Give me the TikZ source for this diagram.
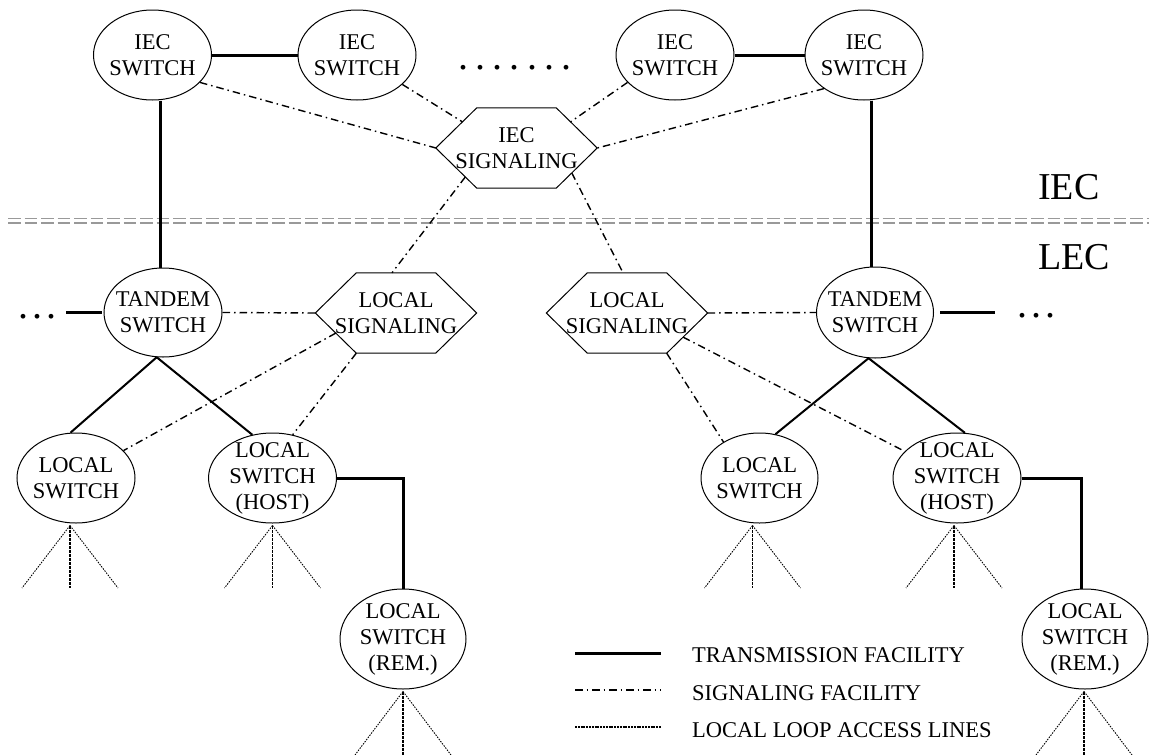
\documentclass[tikz,border=0pt]{standalone}
\usepackage{fontspec}
\setmainfont{Liberation Serif}
\usetikzlibrary{shapes.geometric,calc}
\tikzset{
  sw/.style={ellipse, draw, line width=1pt, inner sep=0pt},
  txt/.style={align=center, inner sep=0pt, font=\fontsize{22.5}{26}\selectfont},
  hexbox/.style={rectangle, inner sep=0pt, minimum width=161pt, minimum height=80pt, align=center, font=\fontsize{22.5}{26}\selectfont},
  hexline/.style={line width=1pt, line join=miter},
  trans/.style={line width=3pt},
  branch/.style={line width=2pt},
  sig/.style={line width=1.4pt, dash pattern=on 7.5pt off 4pt on 1.5pt off 4pt},
  loopd/.style={line width=0.9pt, dash pattern=on 1.5pt off 1.2pt},
  loopv/.style={line width=1.8pt, dash pattern=on 3pt off 1pt},
  loopleg/.style={line width=1.1pt, dash pattern=on 2pt off 0.8pt},
  bound/.style={line width=1.5pt, color=black!40, dash pattern=on 12.5pt off 4pt},
  dotsnode/.style={inner sep=0pt, font=\fontsize{40}{40}\selectfont},
  biglab/.style={inner sep=0pt, font=\fontsize{38}{40}\selectfont},
  legtxt/.style={inner sep=0pt, font=\fontsize{22.5}{26}\selectfont},
}
% name, position, width, height, text
\newcommand\swnode[5]{%
  \node[sw, minimum width=#3pt, minimum height=#4pt] (#1) at (#2) {};
  \node[txt] (#1t) at (#1) {#5};}
% name, position, text
\newcommand\hexa[3]{%
  \node[hexbox] (#1) at (#2) {#3};
  \coordinate (#1-l) at (#1.west);
  \coordinate (#1-r) at (#1.east);
  \coordinate (#1-tl) at ([xshift=41pt]#1.north west);
  \coordinate (#1-tr) at ([xshift=-41pt]#1.north east);
  \coordinate (#1-bl) at ([xshift=41pt]#1.south west);
  \coordinate (#1-br) at ([xshift=-41pt]#1.south east);
  \draw[hexline] (#1-l) -- (#1-tl) -- (#1-tr) -- (#1-r) -- (#1-br) -- (#1-bl) -- cycle;}
% node, xshift of apex, bottom y
\newcommand\loops[3]{%
  \coordinate (#1-ap) at ([xshift=#2pt,yshift=-2pt]#1.south);
  \coordinate (#1-v) at (#1-ap |- 0,#3);
  \draw[loopd] (#1-ap) -- ([xshift=-48pt]#1-v);
  \draw[loopv] (#1-ap) -- (#1-v);
  \draw[loopd] (#1-ap) -- ([xshift=48pt]#1-v);}
\begin{document}
\begin{tikzpicture}[x=1pt,y=-1pt]
\useasboundingbox (0,0) rectangle (1149,755);

% boundary between IEC and LEC
\draw[bound] (8,218.5) -- (1149,218.5);
\draw[bound] (8,223) -- (1149,223);
\node[biglab, anchor=base west] (iec) at (1038,199) {IEC};
\node[biglab, anchor=base west] (lec) at (1038,269) {LEC};

% IEC switches
\swnode{sw1}{152.5,55}{118}{90}{IEC\\SWITCH}
\swnode{sw2}{357,55}{118}{90}{IEC\\SWITCH}
\swnode{sw3}{675,55}{118}{90}{IEC\\SWITCH}
\swnode{sw4}{864,55}{118}{90}{IEC\\SWITCH}
\node[dotsnode, anchor=base] (tdots) at (515,69) {.\hspace{7.3pt}.\hspace{7.3pt}.\hspace{7.3pt}.\hspace{7.3pt}.\hspace{7.3pt}.\hspace{7.3pt}.};

% signaling hexagons
\hexa{isig}{516.5,148}{IEC\\SIGNALING}
\hexa{lsig}{396,313}{LOCAL\\SIGNALING}
\hexa{rsig}{627,313}{LOCAL\\SIGNALING}

% tandem switches
\swnode{lt}{163,312.5}{118}{89}{TANDEM\\SWITCH}
\swnode{rt}{875,312.5}{117}{91}{TANDEM\\SWITCH}
\node[dotsnode, anchor=base] (ldots) at (37,318) {.\hspace{4pt}.\hspace{4pt}.};
\node[dotsnode, anchor=base] (rdots) at (1036,317) {.\hspace{4pt}.\hspace{4pt}.};

% local switches
\swnode{ls1}{76,478}{118}{90}{LOCAL\\SWITCH}
\swnode{lh}{272.5,478}{128}{90}{LOCAL\\SWITCH\\(HOST)}
\swnode{lrem}{403,639}{126}{100}{LOCAL\\SWITCH\\(REM.)}
\swnode{rls}{759.5,478}{117}{90}{LOCAL\\SWITCH}
\swnode{rh}{957,478}{128}{90}{LOCAL\\SWITCH\\(HOST)}
\swnode{rrem}{1085,639}{126}{100}{LOCAL\\SWITCH\\(REM.)}

% transmission facilities
\draw[trans] (sw1.east) -- (sw2.west);
\draw[trans] (sw3.east) -- (sw4.west);
\draw[trans] ([xshift=7.5pt]sw1.south) -- ([xshift=-3pt]lt.north);
\draw[trans] ([xshift=7pt]sw4.south) -- ([xshift=-4pt]rt.north);
\draw[trans] ([xshift=10pt]ldots.east |- lt.west) -- ([xshift=-2pt]lt.west);
\draw[trans] ([xshift=6pt]rt.east) -- ([xshift=-22pt]rdots.west |- rt.east);
\draw[trans] (lh.east) -| (lrem.north);
\draw[trans] (rh.east) -| ([xshift=-4pt]rrem.north);
\draw[branch] (lt.262) -- (ls1.97);
\draw[branch] (lt.262) -- (lh.115);
\draw[branch] (rt.262) -- (rls.70);
\draw[branch] (rt.262) -- (rh.80);

% signaling facilities
\draw[sig] (sw1.-30) -- (isig-l);
\draw[sig] (sw2.-33) -- ($(isig-l)!0.65!(isig-tl)$);
\draw[sig] (sw3.-150) -- ($(isig-r)!0.65!(isig-tr)$);
\draw[sig] (sw4.-140) -- (isig-r);
\draw[sig] ($(isig-l)!0.72!(isig-bl)$) -- ($(lsig-tl)!0.45!(lsig-tr)$);
\draw[sig] ($(isig-r)!0.62!(isig-br)$) -- ($(rsig-tl)!0.45!(rsig-tr)$);
\draw[sig] (lt.east) -- (lsig-l);
\draw[sig] (rsig-r) -- (rt.west);
\draw[sig] ($(lsig-l)!0.5!(lsig-bl)$) -- (ls1.30);
\draw[sig] (lsig-bl) -- (lh.65);
\draw[sig] ($(rsig-r)!0.6!(rsig-br)$) -- (rh.153);
\draw[sig] (rsig-br) -- (rls.135);

% local loop access lines
\loops{ls1}{-6}{588}
\loops{lh}{0}{588}
\loops{lrem}{0}{755}
\loops{rls}{-7}{588}
\loops{rh}{-3}{588}
\loops{rrem}{-1}{755}

% legend
\coordinate (lg1a) at (575,653); \coordinate (lg1b) at (661,653);
\coordinate (lg2a) at (575,690); \coordinate (lg2b) at (661,690);
\coordinate (lg3a) at (575,727); \coordinate (lg3b) at (661,727);
\draw[trans] (lg1a) -- (lg1b);
\draw[sig, line width=1.1pt] (lg2a) -- (lg2b);
\draw[loopleg] (lg3a) -- (lg3b);
\node[legtxt, anchor=base west] (lg1t) at (692,662) {TRANSMISSION FACILITY};
\node[legtxt, anchor=base west] (lg2t) at (692,700) {SIGNALING FACILITY};
\node[legtxt, anchor=base west] (lg3t) at (692,737) {LOCAL LOOP ACCESS LINES};
\end{tikzpicture}
\end{document}
